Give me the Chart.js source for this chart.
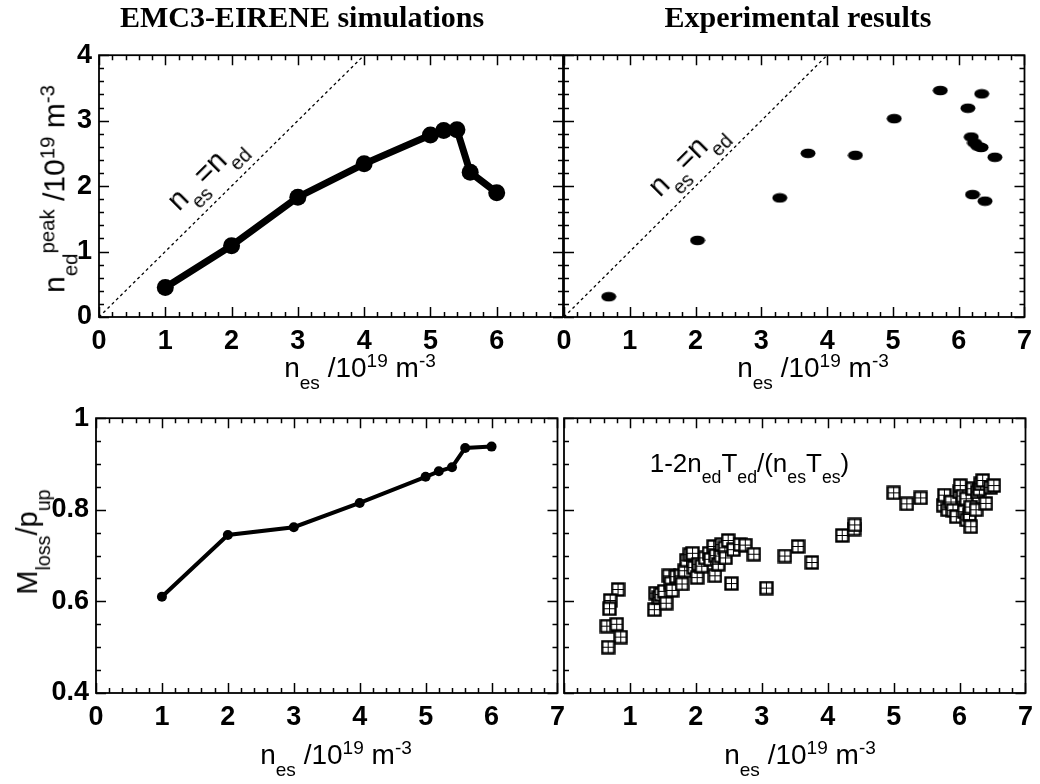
<!DOCTYPE html>
<html>
<head>
<meta charset="utf-8">
<script src="https://cdn.jsdelivr.net/npm/chart.js@4.4.0/dist/chart.umd.min.js"></script>
<style>
  body { margin: 0; background: #fff; }
  #page { position: relative; width: 1040px; height: 784px; overflow: hidden; background: #fff; }
  canvas { position: absolute; }
  .lbl { position: absolute; white-space: nowrap; font-family: 'Liberation Sans', Arial, sans-serif; font-size: 28px; line-height: 1; color: #000; }
  .lbl sub, .lbl sup { font-size: 0.68em; line-height: 0; }
  .lbl sub { vertical-align: -0.65em; }
  .lbl sup { vertical-align: 0.5em; }
  .title { position: absolute; white-space: nowrap; font-family: 'Liberation Serif', 'Times New Roman', serif; font-weight: bold; font-size: 30px; line-height: 1; transform: translateX(-50%); }
  .cx { transform: translateX(-50%); }
  .rot { transform: translate(-50%, -50%) rotate(-90deg); }
</style>
</head>
<body>
<div id="page">
  <canvas id="peakSim"></canvas>
  <canvas id="peakExp"></canvas>
  <canvas id="lossSim"></canvas>
  <canvas id="lossExp"></canvas>

  <div class="title" style="left:302px; top:2px">EMC3-EIRENE simulations</div>
  <div class="title" style="left:798px; top:2px">Experimental results</div>

  <div class="lbl cx" style="left:360px; top:354px">n<sub>es</sub> /10<sup>19</sup> m<sup>-3</sup></div>
  <div class="lbl cx" style="left:813px; top:354px">n<sub>es</sub> /10<sup>19</sup> m<sup>-3</sup></div>
  <div class="lbl cx" style="left:336px; top:741px">n<sub>es</sub> /10<sup>19</sup> m<sup>-3</sup></div>
  <div class="lbl cx" style="left:800px; top:741px">n<sub>es</sub> /10<sup>19</sup> m<sup>-3</sup></div>

  <div class="lbl rot" style="left:55px; top:189px; font-size:30px">n<sub>ed</sub><sup>peak</sup> /10<sup>19</sup> m<sup>-3</sup></div>
  <div class="lbl rot" style="left:28px; top:542px; font-size:29px">M<sub>loss</sub>/p<sub>up</sub></div>

  <div class="lbl" id="eqSim" style="font-size:29px">n<sub>es</sub>=n<sub>ed</sub></div>
  <div class="lbl" id="eqExp" style="font-size:29px">n<sub>es</sub>=n<sub>ed</sub></div>
  <div class="lbl" id="ratioNote" style="font-size:26px">1-2n<sub>ed</sub>T<sub>ed</sub>/(n<sub>es</sub>T<sub>es</sub>)</div>
</div>

<script>
// axis ticks
const xTickValues = [0, 1, 2, 3, 4, 5, 6, 7];
const peakTickValues = [0, 1, 2, 3, 4];
const lossTickValues = [0.4, 0.6, 0.8, 1.0];

// EMC3-EIRENE runs
const simDensity = [1, 2, 3, 4, 5, 5.2, 5.4, 5.6, 6];
const simPeakDensity = [0.45, 1.09, 1.83, 2.34, 2.78, 2.85, 2.86, 2.21, 1.9];
const simMomentumLoss = [0.61, 0.745, 0.762, 0.815, 0.872, 0.884, 0.893, 0.935, 0.938];

// experiment, peak density
const expPeakX = [0.68, 2.03, 3.28, 3.71, 4.43, 5.02, 5.72, 6.35, 6.14, 6.19, 6.24, 6.29, 6.34, 6.55, 6.21, 6.40];
const expPeakY = [0.31, 1.17, 1.82, 2.50, 2.47, 3.03, 3.46, 3.41, 3.19, 2.75, 2.66, 2.61, 2.59, 2.44, 1.87, 1.77];

// experiment, 1-2nT/nT
const expLossX = [0.82, 0.70, 0.69, 0.65, 0.80, 0.86, 0.67, 1.37, 1.39, 1.44, 1.47, 1.52, 1.55, 1.59, 1.62, 1.70,
  1.64, 1.77, 1.79, 1.83, 1.86, 1.91, 1.95, 1.97, 2.02, 2.04, 2.09, 2.14, 2.20, 2.22, 2.27, 2.29, 2.30, 2.34,
  2.38, 2.39, 2.44, 2.45, 2.49, 2.54, 2.57, 2.67, 2.75, 2.88, 3.07, 3.35, 3.55, 3.76, 4.22, 4.40, 4.41, 5.00,
  5.20, 5.41, 5.75, 5.77, 5.82, 5.87, 5.90, 5.95, 6.00, 6.01, 6.05, 6.07, 6.10, 6.11, 6.15, 6.17, 6.17, 6.20,
  6.25, 6.27, 6.30, 6.32, 6.35, 6.40, 6.47, 6.52];
const expLossY = [0.626, 0.602, 0.584, 0.546, 0.550, 0.522, 0.500, 0.582, 0.618, 0.609, 0.615, 0.622, 0.596, 0.656, 0.640, 0.654,
  0.624, 0.656, 0.638, 0.667, 0.690, 0.702, 0.705, 0.674, 0.652, 0.681, 0.677, 0.695, 0.705, 0.692, 0.720, 0.656, 0.700, 0.681,
  0.699, 0.724, 0.717, 0.695, 0.733, 0.639, 0.713, 0.724, 0.723, 0.703, 0.629, 0.699, 0.720, 0.685, 0.744, 0.758, 0.767, 0.837,
  0.813, 0.826, 0.810, 0.832, 0.800, 0.817, 0.799, 0.785, 0.839, 0.853, 0.830, 0.796, 0.824, 0.778, 0.790, 0.763, 0.806, 0.846,
  0.800, 0.839, 0.845, 0.857, 0.864, 0.814, 0.849, 0.853];

// n_es = n_ed
const equalityLine = [0, 4];

const pairs = (xs, ys) => xs.map((x, i) => ({ x: x, y: ys[i] }));
const tickFont = { family: "'Liberation Sans', Arial, sans-serif", size: 27, weight: 'bold' };

// IDL-like frame with inward ticks on all four sides
const frameTicks = {
  id: 'frameTicks',
  afterDatasetsDraw(chart, args, opts) {
    const { ctx, chartArea: a, scales: { x, y } } = chart;
    ctx.save();
    ctx.strokeStyle = '#000';
    ctx.lineWidth = 1.5;
    ctx.beginPath();
    const nx = Math.round((x.max - x.min) / opts.xMinor);
    for (let i = 0; i <= nx; i++) {
      const v = x.min + i * opts.xMinor;
      const len = Math.abs(v - Math.round(v)) < 1e-6 ? 10 : 5;
      const px = Math.round(x.getPixelForValue(v)) + 0.5;
      ctx.moveTo(px, a.bottom); ctx.lineTo(px, a.bottom - len);
      ctx.moveTo(px, a.top); ctx.lineTo(px, a.top + len);
    }
    const ny = Math.round((y.max - y.min) / opts.yMinor);
    for (let i = 0; i <= ny; i++) {
      const v = y.min + i * opts.yMinor;
      const q = v / opts.yMajor;
      const len = Math.abs(q - Math.round(q)) < 1e-6 ? 10 : 5;
      const py = Math.round(y.getPixelForValue(v)) + 0.5;
      ctx.moveTo(a.left, py); ctx.lineTo(a.left + len, py);
      ctx.moveTo(a.right, py); ctx.lineTo(a.right - len, py);
    }
    ctx.stroke();
    ctx.lineWidth = 1.8;
    ctx.strokeRect(a.left, a.top, a.right - a.left, a.bottom - a.top);
    ctx.restore();
  }
};

function ellipseMarker() {
  const c = document.createElement('canvas');
  c.width = 16; c.height = 11;
  const g = c.getContext('2d');
  g.fillStyle = '#000';
  g.beginPath();
  g.ellipse(8, 5.5, 7.5, 4.8, 0, 0, Math.PI * 2);
  g.fill();
  return c;
}

function boxMarker() {
  const c = document.createElement('canvas');
  c.width = 15; c.height = 15;
  const g = c.getContext('2d');
  g.fillStyle = '#fff';
  g.fillRect(1, 1, 13, 13);
  g.strokeStyle = '#000';
  g.lineWidth = 1;
  g.beginPath();
  g.moveTo(7.5, 2); g.lineTo(7.5, 13);
  g.moveTo(2, 7.5); g.lineTo(13, 7.5);
  g.stroke();
  g.lineWidth = 2.4;
  g.strokeRect(1.5, 1.5, 12, 12);
  return c;
}

function equalityDataset() {
  return {
    data: pairs(equalityLine, equalityLine),
    showLine: true, borderColor: '#000', borderWidth: 1.3, borderDash: [3, 3], pointRadius: 0
  };
}

function makePanel(id, area, cfg) {
  const [l, t, r, b] = area;
  const padL = 70, padT = 20, padR = 10, padB = 50;
  const cv = document.getElementById(id);
  cv.width = r - l + padL + padR;
  cv.height = b - t + padT + padB;
  cv.style.left = (l - padL) + 'px';
  cv.style.top = (t - padT) + 'px';
  const yVals = cfg.yTicks;
  return new Chart(cv, {
    type: 'scatter',
    data: { datasets: cfg.datasets },
    options: {
      responsive: false,
      animation: false,
      events: [],
      layout: { padding: { left: 0, top: padT, right: padR, bottom: 0 } },
      plugins: {
        legend: { display: false },
        tooltip: { enabled: false },
        frameTicks: { xMinor: 0.2, yMinor: cfg.yMinor, yMajor: cfg.yStep }
      },
      scales: {
        x: {
          type: 'linear',
          min: xTickValues[0],
          max: xTickValues[xTickValues.length - 1],
          grid: { display: false, drawTicks: false },
          border: { display: false },
          ticks: {
            stepSize: 1, autoSkip: false, maxRotation: 0, minRotation: 0, padding: 8,
            color: '#000', font: tickFont,
            callback: v => cfg.showX(v) ? String(v) : ''
          },
          afterFit: s => { s.height = padB; }
        },
        y: {
          type: 'linear',
          min: yVals[0],
          max: yVals[yVals.length - 1],
          grid: { display: false, drawTicks: false },
          border: { display: false },
          ticks: {
            stepSize: cfg.yStep, autoSkip: false, padding: 7,
            color: '#000', font: tickFont,
            callback: v => cfg.showY ? String(+v.toFixed(1)) : ''
          },
          afterFit: s => { s.width = padL; }
        }
      }
    },
    plugins: [frameTicks]
  });
}

const peakSim = makePanel('peakSim', [99, 52, 563, 317], {
  yTicks: peakTickValues, yStep: 1, yMinor: 0.2, showY: true,
  showX: v => v < 7,
  datasets: [
    equalityDataset(),
    {
      data: pairs(simDensity, simPeakDensity),
      showLine: true, borderColor: '#000', borderWidth: 7,
      pointRadius: 8.5, pointBackgroundColor: '#000', pointBorderWidth: 0
    }
  ]
});

const peakExp = makePanel('peakExp', [564, 52, 1030, 317], {
  yTicks: peakTickValues, yStep: 1, yMinor: 0.2, showY: false,
  showX: v => true,
  datasets: [
    equalityDataset(),
    { data: pairs(expPeakX, expPeakY), pointStyle: ellipseMarker(), pointRadius: 6 }
  ]
});

const lossSim = makePanel('lossSim', [96, 415, 563, 693], {
  yTicks: lossTickValues, yStep: 0.2, yMinor: 0.05, showY: true,
  showX: v => true,
  datasets: [
    {
      data: pairs(simDensity, simMomentumLoss),
      showLine: true, borderColor: '#000', borderWidth: 4,
      pointRadius: 5, pointBackgroundColor: '#000', pointBorderWidth: 0
    }
  ]
});

const lossExp = makePanel('lossExp', [564, 415, 1031, 693], {
  yTicks: lossTickValues, yStep: 0.2, yMinor: 0.05, showY: false,
  showX: v => v > 0,
  datasets: [
    { data: pairs(expLossX, expLossY), pointStyle: boxMarker(), pointRadius: 7 }
  ]
});

// place annotations through each chart's own scales
function placeAt(elId, chart, xv, yv, rotate) {
  const el = document.getElementById(elId);
  const cv = chart.canvas;
  const px = parseFloat(cv.style.left) + chart.scales.x.getPixelForValue(xv);
  const py = parseFloat(cv.style.top) + chart.scales.y.getPixelForValue(yv);
  el.style.left = px + 'px';
  el.style.top = py + 'px';
  el.style.transform = rotate ? 'translate(-50%, -50%) rotate(-45deg)' : 'none';
}
placeAt('eqSim', peakSim, 1.6, 2.2, true);
placeAt('eqExp', peakExp, 1.85, 2.42, true);
placeAt('ratioNote', lossExp, 1.3, 0.93, false);
</script>
</body>
</html>
